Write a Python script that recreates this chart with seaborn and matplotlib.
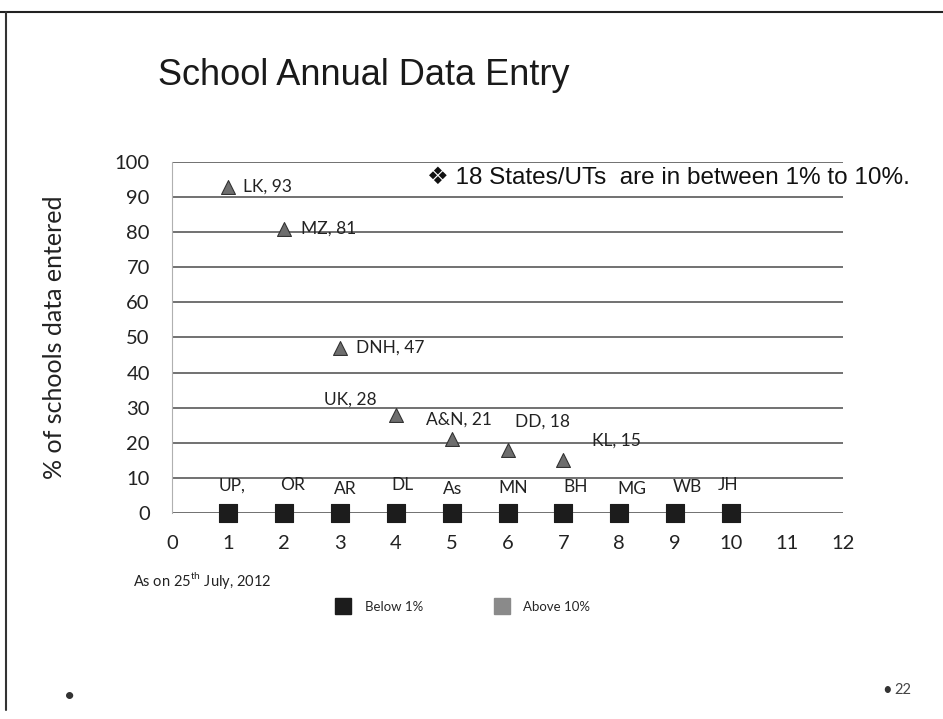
import numpy as np
import pandas as pd
import seaborn as sns
import matplotlib.pyplot as plt
from matplotlib.lines import Line2D

# data (as on 25th July, 2012)
above_states = ["LK", "MZ", "DNH", "UK", "A&N", "DD", "KL"]
above_x = [1, 2, 3, 4, 5, 6, 7]
above_pct = [93, 81, 47, 28, 21, 18, 15]

below_states = ["UP,", "OR", "AR", "DL", "As", "MN", "BH", "MG", "WB", "JH"]
below_x = [1, 2, 3, 4, 5, 6, 7, 8, 9, 10]
below_pct = [0, 0, 0, 0, 0, 0, 0, 0, 0, 0]

x_ticks = list(range(0, 13))
y_ticks = list(range(0, 101, 10))

above = pd.DataFrame({"x": above_x, "pct": above_pct, "state": above_states})
below = pd.DataFrame({"x": below_x, "pct": below_pct, "state": below_states})

# label placement offsets (points) relative to each marker
above_off = [(11, 0, "left"), (12, 0, "left"), (11.5, 0, "left"),
             (-33, 11, "center"), (5, 14, "center"), (25, 20, "center"), (38, 14, "center")]
below_off = [(3, 20), (6, 20), (4, 17), (5, 20), (1, 17), (4, 18), (9, 19), (9, 17), (9, 19), (-2, 20)]

sns.set_theme(style="white")
plt.rcParams['font.family'] = ['Lato', 'DejaVu Sans']

fig = plt.figure(figsize=(9.43, 7.19), dpi=100)
ax = fig.add_axes([0.1824, 0.2865, 0.894 - 0.1824, 0.7747 - 0.2865])

sns.scatterplot(data=below, x="x", y="pct", marker="s", s=150, color="#1c1c1c",
                edgecolor="#1c1c1c", linewidth=0.8, ax=ax, zorder=3, clip_on=False)
sns.scatterplot(data=above, x="x", y="pct", marker="^", s=100, color="#6e6e6e",
                edgecolor="#333333", linewidth=0.8, ax=ax, zorder=3, clip_on=False)

for (_, r), (dx, dy, ha) in zip(above.iterrows(), above_off):
    ax.annotate(f"{r.state}, {r.pct}", (r.x, r.pct), xytext=(dx, dy),
                textcoords="offset points", ha=ha, va="center",
                fontsize=12.5, color="#222222")
for (_, r), (dx, dy) in zip(below.iterrows(), below_off):
    ax.annotate(r.state, (r.x, r.pct), xytext=(dx, dy),
                textcoords="offset points", ha="center", va="center",
                fontsize=12.5, color="#222222")

ax.set_xlim(0, 12)
ax.set_ylim(0, 100)
ax.set_xticks(x_ticks)
ax.set_yticks(y_ticks)
ax.yaxis.grid(True, color="#4a4a4a", linewidth=1.1)
ax.xaxis.grid(False)
for s in ["top", "right", "bottom"]:
    ax.spines[s].set_visible(False)
ax.spines["left"].set_color("#b0b0b0")
ax.spines["left"].set_linewidth(0.8)
ax.tick_params(axis="y", length=4, color="#4a4a4a", pad=12, labelsize=14.5, labelcolor="#222222")
ax.tick_params(axis="x", length=0, pad=16, labelsize=14.5, labelcolor="#222222")
ax.set_xlabel("")
ax.set_ylabel("")

fig.text(0.058, 0.531, "% of schools data entered", rotation=90, ha="center", va="center",
         fontsize=18, color="#222222")

fig.text(0.168, 0.895, "School Annual Data Entry", fontsize=26, color="#1a1a1a",
         family=["Liberation Sans", "DejaVu Sans"], va="center")
fig.text(0.453, 0.753, "\u2756 18 States/UTs  are in between 1% to 10%.", fontsize=17.5,
         color="#111111", family=["Liberation Sans", "DejaVu Sans"], va="center")

fig.text(0.141, 0.193, r"As on 25$^{\mathregular{th}}$ July, 2012", fontsize=10.5,
         color="#222222", va="center")

handles = [Line2D([], [], marker="s", linestyle="", markersize=11, color="#1c1c1c"),
           Line2D([], [], marker="s", linestyle="", markersize=11, color="#8a8a8a")]
fig.legend(handles, ["Below 1%", "Above 10%"], ncol=2, frameon=False,
           loc="center", bbox_to_anchor=(0.488, 0.156), fontsize=9.5,
           columnspacing=5, handletextpad=0.6)

fig.text(0.074, 0.031, "\u2022", fontsize=14, color="#333333", ha="center", va="center")
fig.text(0.941, 0.040, "\u2022", fontsize=12, color="#333333", ha="center", va="center")
fig.text(0.948, 0.040, "22", fontsize=10.5, color="#444444", ha="left", va="center")

# slide frame edges from the scan
fig.add_artist(Line2D([0.0, 1.0], [0.983, 0.983], color="#222222", linewidth=1.5))
fig.add_artist(Line2D([0.006, 0.006], [0.012, 0.983], color="#333333", linewidth=1.5))

fig.savefig("out.png", dpi=100)
